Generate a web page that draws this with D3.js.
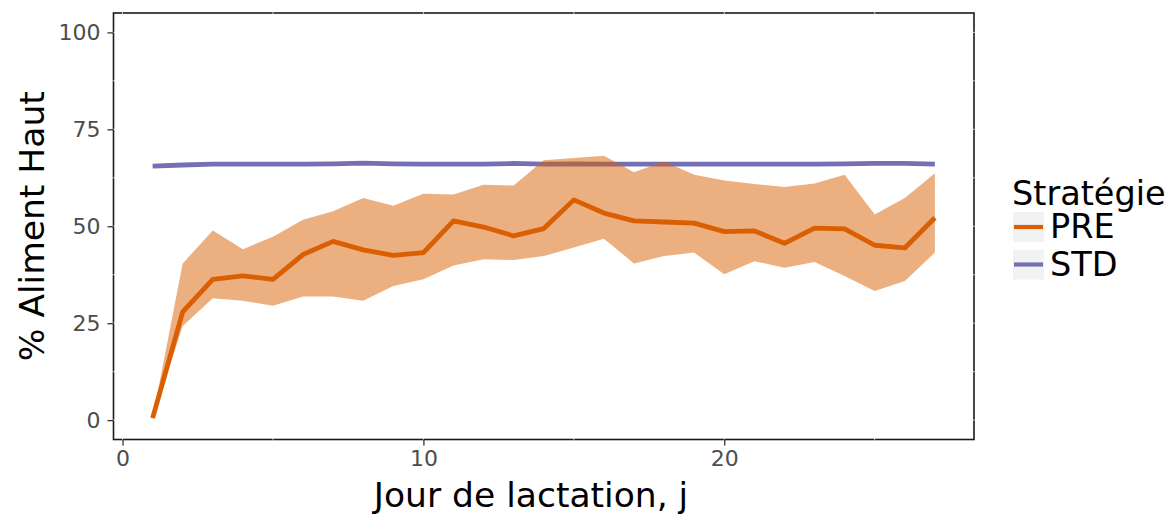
<!DOCTYPE html>
<html>
<head>
<meta charset="utf-8">
<script src="https://cdn.jsdelivr.net/npm/d3@7"></script>
<style>
  html, body { margin: 0; padding: 0; background: #ffffff; }
  svg { display: block; font-family: "DejaVu Sans", sans-serif; }
</style>
</head>
<body>
<svg id="chart" width="1173" height="516"></svg>
<script>
// ---- data ----
const days = [1,2,3,4,5,6,7,8,9,10,11,12,13,14,15,16,17,18,19,20,21,22,23,24,25,26,27];
const preMean  = [0.5,27.9,36.3,37.2,36.3,42.7,46.1,43.9,42.5,43.2,51.4,49.8,47.5,49.4,56.8,53.4,51.4,51.1,50.8,48.6,48.8,45.6,49.5,49.3,45.1,44.4,52.2];
const preUpper = [0.5,40.4,48.9,44.1,47.3,51.7,53.9,57.3,55.3,58.4,58.2,60.7,60.5,67.0,67.6,68.2,63.9,66.7,63.3,61.8,60.9,60.1,61.0,63.3,53.0,57.3,63.7];
const preLower = [0.5,24.3,31.4,30.8,29.5,31.9,31.9,30.8,34.6,36.3,39.9,41.5,41.3,42.3,44.5,46.8,40.4,42.3,43.2,37.6,41.0,39.3,40.8,37.2,33.3,35.9,43.2];
const stdMean  = [65.5,65.8,66.0,66.0,66.0,66.0,66.1,66.3,66.1,66.0,66.0,66.0,66.2,66.0,66.1,66.0,66.0,66.0,66.0,66.0,66.0,66.0,66.0,66.1,66.2,66.2,66.0];
const xTicks = [0,10,20];
const yTicks = [0,25,50,75,100];
const xMinor = [5,15,25];
const yMinor = [12.5,37.5,62.5,87.5];
const seriesNames = ["PRE","STD"];
const seriesColors = ["#d95f02","#7570b3"];
const xTitle = "Jour de lactation, j";
const yTitle = "% Aliment Haut";
const legendTitle = "Stratégie";

// ---- layout ----
const svg = d3.select("#chart");
const L = 113.5, R = 974, T = 13, B = 439.5;
const x = d3.scaleLinear().domain([-0.3, 28.3]).range([L, R]);
const y = d3.scaleLinear().domain([-5, 105]).range([B, T]);
const tickCol = "#333333", labCol = "#4d4d4d";

// panel
svg.append("rect").attr("x", L).attr("y", T).attr("width", R - L).attr("height", B - T)
  .attr("fill", "#ffffff").attr("stroke", "#1a1a1a").attr("stroke-width", 1.6);

// faint grid (white, visible only where crossing the border)
const g = svg.append("g");
[...xTicks, ...xMinor].forEach(v => {
  g.append("line").attr("x1", x(v)).attr("x2", x(v)).attr("y1", T - 1).attr("y2", B + 1)
    .attr("stroke", "#ffffff").attr("stroke-opacity", 0.7).attr("stroke-width", 1);
});
[...yTicks, ...yMinor].forEach(v => {
  g.append("line").attr("y1", y(v)).attr("y2", y(v)).attr("x1", L - 1).attr("x2", R + 1)
    .attr("stroke", "#ffffff").attr("stroke-opacity", 0.7).attr("stroke-width", 1);
});

// axes
const xAxis = d3.axisBottom(x).tickValues(xTicks).tickSize(6).tickPadding(5).tickFormat(d3.format("d"));
const yAxis = d3.axisLeft(y).tickValues(yTicks).tickSize(6).tickPadding(7).tickFormat(d3.format("d"));
const gx = svg.append("g").attr("transform", `translate(0,${B})`).call(xAxis);
const gy = svg.append("g").attr("transform", `translate(${L},0)`).call(yAxis);
[gx, gy].forEach(a => {
  a.select(".domain").remove();
  a.selectAll(".tick line").attr("stroke", tickCol).attr("stroke-width", 1.3);
  a.selectAll(".tick text").attr("fill", labCol).attr("font-size", 22)
    .attr("font-family", "DejaVu Sans, sans-serif");
});

// data
const stdLine = d3.line().x((d, i) => x(days[i])).y(d => y(d));
svg.append("path").datum(stdMean).attr("d", stdLine).attr("fill", "none")
  .attr("stroke", seriesColors[1]).attr("stroke-width", 4.8).attr("stroke-linejoin", "round");

const area = d3.area().x((d, i) => x(days[i])).y0((d, i) => y(preLower[i])).y1((d, i) => y(preUpper[i]));
svg.append("path").datum(preMean).attr("d", area).attr("fill", seriesColors[0]).attr("fill-opacity", 0.5);

svg.append("path").datum(preMean).attr("d", stdLine).attr("fill", "none")
  .attr("stroke", seriesColors[0]).attr("stroke-width", 4.8).attr("stroke-linejoin", "round");

// axis titles
svg.append("text").attr("x", 531).attr("y", 507).attr("text-anchor", "middle")
  .attr("font-size", 34.5).attr("fill", "#000").text(xTitle);
svg.append("text").attr("transform", `translate(44,${(T + B) / 2}) rotate(-90)`)
  .attr("text-anchor", "middle").attr("font-size", 34.5).attr("fill", "#000").text(yTitle);

// legend
svg.append("text").attr("x", 1012).attr("y", 205).attr("font-size", 33.5).attr("fill", "#000").text(legendTitle);
seriesNames.forEach((n, i) => {
  const ky = 212 + i * 37.5;
  svg.append("rect").attr("x", 1013).attr("y", ky).attr("width", 31).attr("height", 30).attr("fill", "#f2f2f2");
  svg.append("line").attr("x1", 1014).attr("x2", 1043).attr("y1", ky + 15).attr("y2", ky + 15)
    .attr("stroke", seriesColors[i]).attr("stroke-width", 4.2);
  svg.append("text").attr("x", 1050).attr("y", ky + 26).attr("font-size", 33.5).attr("fill", "#000").text(n);
});
</script>
</body>
</html>
